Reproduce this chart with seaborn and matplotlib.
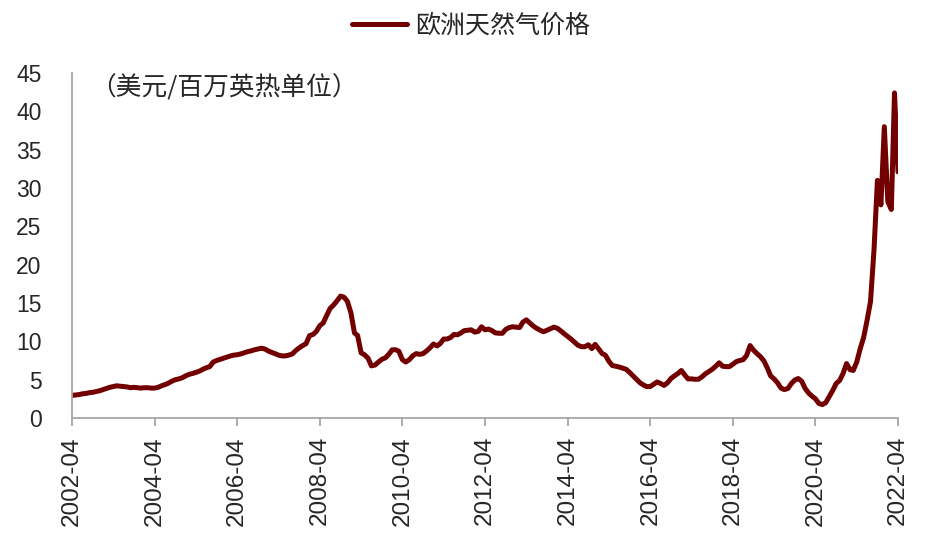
import matplotlib
matplotlib.use("Agg")
import matplotlib.pyplot as plt
import seaborn as sns
import pandas as pd

# ---- data (monthly, starting 2002-04) ----
start_month = "2002-04"
prices = [
    # 2002-04 .. 2003-03
    2.95, 3.0, 3.05, 3.15, 3.2, 3.3, 3.35, 3.45, 3.55, 3.7, 3.85, 4.0,
    # 2003-04 .. 2004-03
    4.1, 4.2, 4.15, 4.1, 4.05, 3.95, 4.0, 3.95, 3.9, 3.95, 3.95, 3.9,
    # 2004-04 .. 2005-03
    3.9, 4.0, 4.2, 4.35, 4.55, 4.8, 5.0, 5.1, 5.25, 5.5, 5.7, 5.8,
    # 2005-04 .. 2006-03
    5.95, 6.1, 6.35, 6.55, 6.7, 7.3, 7.5, 7.65, 7.8, 7.95, 8.1, 8.2,
    # 2006-04 .. 2007-03
    8.25, 8.35, 8.5, 8.65, 8.75, 8.9, 9.0, 9.1, 9.0, 8.75, 8.55, 8.4,
    # 2007-04 .. 2008-03
    8.2, 8.1, 8.1, 8.2, 8.35, 8.8, 9.15, 9.45, 9.7, 10.75, 10.9, 11.3,
    # 2008-04 .. 2009-03
    12.05, 12.4, 13.4, 14.3, 14.75, 15.3, 15.9, 15.75, 15.2, 13.7, 11.1, 10.75,
    # 2009-04 .. 2010-03
    8.5, 8.25, 7.8, 6.8, 6.9, 7.3, 7.65, 7.85, 8.3, 8.9, 8.9, 8.7,
    # 2010-04 .. 2011-03
    7.6, 7.3, 7.6, 8.1, 8.4, 8.3, 8.4, 8.75, 9.15, 9.65, 9.4, 9.7,
    # 2011-04 .. 2012-03
    10.3, 10.3, 10.5, 10.9, 10.85, 11.1, 11.4, 11.45, 11.5, 11.2, 11.3, 11.9,
    # 2012-04 .. 2013-03
    11.5, 11.6, 11.4, 11.1, 11.05, 11.05, 11.55, 11.8, 11.9, 11.85, 11.8, 12.5,
    # 2013-04 .. 2014-03
    12.8, 12.4, 12.0, 11.7, 11.45, 11.25, 11.45, 11.65, 11.85, 11.7, 11.35, 11.0,
    # 2014-04 .. 2015-03
    10.65, 10.3, 9.9, 9.5, 9.3, 9.3, 9.55, 9.05, 9.6, 9.0, 8.4, 8.2,
    # 2015-04 .. 2016-03
    7.4, 6.85, 6.75, 6.65, 6.5, 6.35, 5.95, 5.5, 5.05, 4.6, 4.3, 4.1,
    # 2016-04 .. 2017-03
    4.1, 4.4, 4.7, 4.5, 4.25, 4.6, 5.15, 5.5, 5.8, 6.2, 5.6, 5.1,
    # 2017-04 .. 2018-03
    5.1, 5.05, 5.05, 5.35, 5.75, 6.05, 6.35, 6.75, 7.2, 6.75, 6.7, 6.7,
    # 2018-04 .. 2019-03
    7.0, 7.35, 7.5, 7.6, 8.15, 9.45, 8.85, 8.4, 8.0, 7.45, 6.5, 5.5,
    # 2019-04 .. 2020-03
    5.1, 4.6, 3.9, 3.7, 3.85, 4.5, 4.95, 5.15, 4.8, 3.85, 3.25, 2.85,
    # 2020-04 .. 2021-03
    2.5, 1.9, 1.75, 2.0, 2.8, 3.6, 4.5, 4.9, 5.8, 7.1, 6.3, 6.2,
    # 2021-04 .. 2022-03
    7.3, 9.0, 10.5, 12.7, 15.2, 22.0, 31.0, 27.8, 38.0, 28.2, 27.2, 42.4,
    # 2022-04
    32.1,
]
series_name = "欧洲天然气价格"
unit_label = "（美元/百万英热单位）"
y_ticks = [0, 5, 10, 15, 20, 25, 30, 35, 40, 45]

dates = pd.date_range(start_month, periods=len(prices), freq="MS")
df = pd.DataFrame({"date": dates, "price": prices})

sns.set_style("white")
plt.rcParams["font.family"] = ["Liberation Sans", "Noto Sans CJK SC", "DejaVu Sans"]

fig = plt.figure(figsize=(9.32, 5.44), dpi=100)
ax = fig.add_axes([72 / 932, 1 - 418 / 544, (898 - 72) / 932, (418 - 73) / 544])

line_color = "#720000"
sns.lineplot(data=df, x="date", y="price", ax=ax, color=line_color,
             linewidth=3.6, label=series_name, legend=False)

ax.set_xlim(dates[0], dates[-1])
ax.set_ylim(0, 45)
ax.set_yticks(y_ticks)
ax.set_yticklabels([str(t) for t in y_ticks], fontsize=16.5)

xt = dates[::24]
ax.set_xticks(xt)
ax.set_xticklabels([d.strftime("%Y-%m") for d in xt], rotation=90, fontsize=17.5)
ax.set_xlabel("")
ax.set_ylabel("")

for s in ["top", "right"]:
    ax.spines[s].set_visible(False)
for s in ["left", "bottom"]:
    ax.spines[s].set_color("#A6A6A6")
    ax.spines[s].set_linewidth(1.3)

ax.tick_params(axis="x", which="both", direction="out", length=6, width=1.3,
               color="#A6A6A6", pad=7, bottom=True)
ax.tick_params(axis="y", length=0, pad=22)

ax.grid(False)

fig.text(90 / 932, 1 - 88 / 544, unit_label, fontsize=18.5, va="center", ha="left",
         family=["Noto Sans CJK SC", "DejaVu Sans"])

handles, labels = ax.get_legend_handles_labels()
fig.legend(handles, labels, loc="center", bbox_to_anchor=(471 / 932, 1 - 26 / 544),
           frameon=False, handlelength=2.2, handletextpad=0.3,
           prop={"family": ["Noto Sans CJK SC", "DejaVu Sans"], "size": 18})

fig.savefig("out.png", dpi=100)
